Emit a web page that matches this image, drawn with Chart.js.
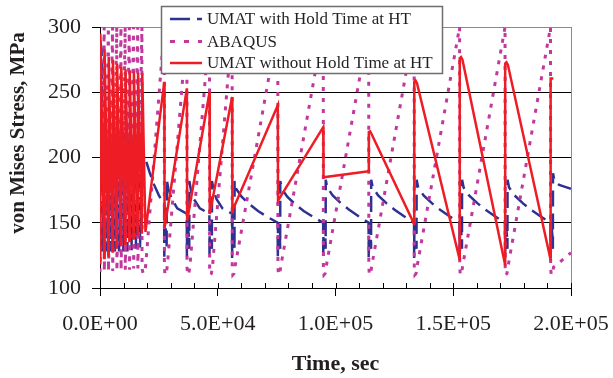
<!DOCTYPE html>
<html>
<head>
<meta charset="utf-8">
<script src="https://cdn.jsdelivr.net/npm/chart.js@4.4.0/dist/chart.umd.min.js"></script>
<style>
  body { margin: 0; background: #fff; }
  #chart { display: block; }
</style>
</head>
<body>
<canvas id="chart" width="613" height="378"></canvas>
<script>
// series names (legend order)
const seriesNames = ['UMAT with Hold Time at HT', 'ABAQUS', 'UMAT without Hold Time at HT']

// axis titles
const xTitle = 'Time, sec'
const yTitle = 'von Mises Stress, MPa'

// x ticks (sec) and y ticks (MPa)
const timeTicks = [0, 50000, 100000, 150000, 200000]
const stressTicks = [100, 150, 200, 250, 300]

// UMAT with hold time: [time, stress]
const umatHold = [
  [0,290],[700,283],[800,128],[1780,190],[2650,187],[2750,128],[3560,200],[4430,198],[4530,128],
  [5340,207],[6210,205],[6310,128],[7120,212],[7990,211],[8090,128],[8900,216],[9770,216],[9870,128],
  [10680,218],[11550,218],[11650,128],[12460,217],[13330,216],[13430,129],[14240,214],[15110,212],[15210,130],
  [16020,210],[16890,208],[16990,131],[17800,206],[19300,199],[21000,189],[23000,179],[25000,171],[27250,164],
  [27300,124],[27400,150],[27800,146],[28200,138],[28300,130],[28350,183],[29000,176],[30300,169],[32800,161],[36850,157],
  [36900,124],[37000,150],[37400,146],[37800,138],[37900,130],[37950,182],[38600,175],[39900,168],[42400,161],[46450,157],
  [46500,124],[46600,150],[47000,146],[47400,138],[47500,130],[47550,182],[48200,175],[49500,168],[52000,161],[56050,157],
  [56100,123],[56200,150],[56600,146],[57000,138],[57100,130],[57150,182],[57800,176],[60100,170],[63600,164],[67100,159],[71100,154.5],[75450,150],
  [75500,123],[75600,150],[76000,146],[76400,138],[76500,130],[76550,182],[77200,176],[79500,170],[83000,164],[86500,159],[90500,154.5],[94750,150],
  [94800,123],[94900,150],[95300,146],[95700,138],[95800,130],[95850,183],[96500,177],[98800,171],[102300,165],[105800,160],[109800,155],[114050,150],
  [114100,123],[114200,150],[114600,146],[115000,138],[115100,130],[115150,183],[115800,177],[118100,171],[121600,165],[125100,160],[129100,155],[133350,150],
  [133400,123],[133500,150],[133900,146],[134300,138],[134400,130],[134450,183],[135100,177],[137400,171],[140900,165],[144400,160],[148400,155],[152650,150],
  [152700,123],[152800,150],[153200,146],[153600,138],[153700,130],[153750,183],[154400,177],[156700,171],[160200,165],[163700,160],[167700,155],[171950,150],
  [172000,123],[172100,150],[172500,146],[172900,138],[173000,130],[173050,183],[173700,177],[176000,171],[179500,165],[183000,160],[187000,155],[191250,150],
  [191300,123],[191400,150],[191800,146],[192200,138],[192300,130],[192350,188],[193000,182],[195000,179],[197500,177.5],[200000,176]
]

// ABAQUS: [time, stress]
const abaqus = [
  [0,112],[1780,300],[1830,113],[3560,300],[3610,113],[5340,300],[5390,113],[7120,300],[7170,113],
  [8900,300],[8950,114],[10680,300],[10730,114],[12460,300],[12510,114],[14240,300],[14290,115],
  [16020,300],[16070,115],[17800,300],[17850,115],[18300,111],[18900,112],[19400,117],
  [27300,300],[27350,116],[27600,110],[28100,111],[28600,117],
  [36900,300],[36950,116],[37200,110],[37700,111],[38200,117],
  [46500,300],[46550,116],[46800,110],[47300,111],[47800,117],
  [56100,300],[56150,116],[56400,110],[56900,111],[57400,117],
  [75500,300],[75550,116],[75800,110],[76300,111],[76800,117],
  [94800,300],[94850,116],[95100,110],[95600,111],[96100,117],
  [114100,300],[114150,116],[114400,110],[114900,111],[115400,117],
  [133400,300],[133450,116],[133700,110],[134200,111],[134700,117],
  [152700,300],[152750,116],[153000,110],[153500,111],[154000,117],
  [172000,300],[172050,116],[172300,110],[172800,111],[173300,117],
  [191300,300],[191350,116],[191600,110],[192100,111],[192600,116],[196000,121],[200000,127]
]

// UMAT without hold time: [time, stress]
const umatNoHold = [
  [0,119],[150,295],[1780,123],[1930,283],[3560,125],[3710,277],[5340,128],[5490,274.6],
  [7120,130],[7270,272],[8900,132],[9050,269.6],[10680,134],[10830,267.6],[12460,136],[12610,266.5],
  [14240,138],[14390,265.8],[16020,140],[16170,265],[17800,141.5],[17950,264.5],[19300,143],
  [27300,258],[27400,146],[36900,253],[37000,151.5],[46500,250],[46600,156.7],[56100,246.4],[56200,159],
  [75500,240],[75600,167],[94800,223.3],[94900,184.8],[114100,189.5],[114150,219.5],[114700,220],[115300,218],
  [133400,149],[133450,258],[134000,259],[134600,257],[152700,122],[152750,276],[153300,277],[153900,275],
  [172000,118],[172050,272],[172600,273],[173200,271],[191300,122],[191350,260.5],[192500,260.5]
]

const colors = ['#2e3192', '#c2389c', '#ee1c25']
const dashes = [[16, 7], [4, 7], []]
const widths = [2.5, 3, 2.5]

const toPts = arr => arr.map(p => ({ x: p[0], y: p[1] }))

const sci = v => {
  const parts = v.toExponential(1).split('e')
  const e = parseInt(parts[1])
  return parts[0] + 'E' + (e < 0 ? '-' : '+') + String(Math.abs(e)).padStart(2, '0')
}

const serif = '"Liberation Serif", "Times New Roman", serif'
const ink = '#231f20'

// minor ticks, right border, y title and the boxed legend
const extras = {
  id: 'extras',
  afterDraw(chart) {
    const ctx = chart.ctx
    const a = chart.chartArea
    const xs = chart.scales.x
    ctx.save()
    // right border
    ctx.strokeStyle = '#8a8a8a'
    ctx.lineWidth = 1
    ctx.beginPath()
    ctx.moveTo(Math.round(a.right) + 0.5, a.top)
    ctx.lineTo(Math.round(a.right) + 0.5, a.bottom)
    ctx.stroke()
    // inside ticks every 1E4
    ctx.strokeStyle = '#000'
    ctx.beginPath()
    for (let t = 0; t <= 200000; t += 10000) {
      const px = Math.round(xs.getPixelForValue(t)) + 0.5
      ctx.moveTo(px, a.bottom)
      ctx.lineTo(px, a.bottom - 5)
    }
    ctx.stroke()
    // y axis title, sitting a little above the plot centre as in the original
    ctx.save()
    ctx.translate(19, 133)
    ctx.rotate(-Math.PI / 2)
    ctx.font = 'bold 21px ' + serif
    ctx.fillStyle = ink
    ctx.textAlign = 'center'
    ctx.textBaseline = 'middle'
    ctx.fillText(yTitle, 0, 0)
    ctx.restore()
    // legend box
    const lx = 161, ly = 6, lw = 282, lh = 68
    ctx.fillStyle = '#fff'
    ctx.fillRect(lx, ly, lw, lh)
    ctx.strokeStyle = '#6e6e6e'
    ctx.lineWidth = 1.5
    ctx.strokeRect(lx + 0.5, ly + 0.5, lw - 1, lh - 1)
    const rows = [19, 41.5, 63]
    ctx.font = '17px ' + serif
    ctx.textBaseline = 'middle'
    ctx.textAlign = 'left'
    seriesNames.forEach((name, i) => {
      ctx.strokeStyle = colors[i]
      ctx.lineWidth = widths[i]
      ctx.setLineDash(i === 0 ? [20, 7] : i === 1 ? [5, 9] : [])
      ctx.beginPath()
      ctx.moveTo(170, rows[i])
      ctx.lineTo(202, rows[i])
      ctx.stroke()
      ctx.setLineDash([])
      ctx.fillStyle = ink
      ctx.fillText(name, 207, rows[i] + 1)
    })
    ctx.restore()
  }
}

const sources = [umatHold, abaqus, umatNoHold]

new Chart(document.getElementById('chart').getContext('2d'), {
  type: 'scatter',
  data: {
    datasets: sources.map((src, i) => ({
      label: seriesNames[i],
      data: toPts(src),
      showLine: true,
      borderColor: colors[i],
      backgroundColor: colors[i],
      borderWidth: widths[i],
      borderDash: dashes[i],
      pointRadius: 0,
      tension: 0,
      order: 2 - i
    }))
  },
  options: {
    responsive: false,
    animation: false,
    layout: { padding: { top: 27, right: 42, left: 0, bottom: 0 } },
    plugins: { legend: { display: false }, tooltip: { enabled: false } },
    scales: {
      x: {
        type: 'linear',
        min: 0,
        max: 200000,
        afterBuildTicks: s => { s.ticks = timeTicks.map(v => ({ value: v })) },
        afterFit: s => { s.height = 90; s.paddingLeft = 0; s.paddingRight = 0 },
        ticks: { callback: v => sci(v), font: { family: serif, size: 22 }, color: ink, padding: 15, maxRotation: 0 },
        grid: { drawOnChartArea: false, drawTicks: true, tickLength: 8, color: '#000' },
        border: { color: '#000', width: 1 },
        title: { display: true, text: xTitle, font: { family: serif, size: 22, weight: 'bold' }, color: ink, padding: { top: 0, bottom: 0 } }
      },
      y: {
        min: 100,
        max: 300,
        afterBuildTicks: s => { s.ticks = stressTicks.map(v => ({ value: v })) },
        afterFit: s => { s.width = 100; s.paddingTop = 0; s.paddingBottom = 0 },
        ticks: { font: { family: serif, size: 22 }, color: ink, padding: 11 },
        grid: { color: c => (c.tick && c.tick.value === 300 ? '#8a8a8a' : '#000'), tickColor: '#000', tickLength: 8 },
        border: { color: '#000', width: 1 }
      }
    }
  },
  plugins: [extras]
})
</script>
</body>
</html>
